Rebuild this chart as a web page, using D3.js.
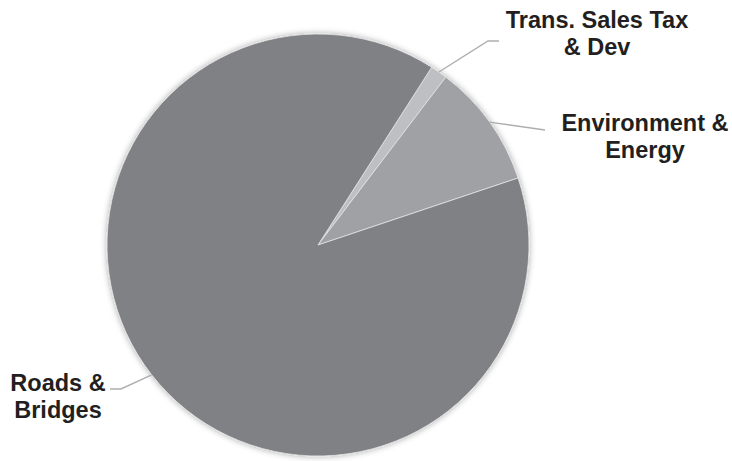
<!DOCTYPE html>
<html>
<head>
<meta charset="utf-8">
<script src="https://cdn.jsdelivr.net/npm/d3@7"></script>
<style>
  html, body { margin: 0; padding: 0; background: #fff; }
  svg { display: block; }
</style>
</head>
<body>
<div class="data_figure"></div>
<script>
// slice data, in drawing order (clockwise)
const categories = ["Trans. Sales Tax & Dev", "Environment & Energy", "Roads & Bridges"];
const shares = [1.3, 9.5, 89.2];
const labelLines = [["Trans. Sales Tax", "& Dev"], ["Environment &", "Energy"], ["Roads &", "Bridges"]];

const widthMax = 732;
const heightMax = 461;
const center = { x: 318, y: 245 };
const radius = 211;
const startDeg = 32.6;

const colors = ["#bebfc3", "#a0a1a5", "#808185"];

// label placement: text centre, first baseline, leader elbow / end
const labelLayout = [
    { x: 597, y: 28, elbow: [488, 41], end: [499, 41] },
    { x: 645, y: 131, elbow: [545, 130], end: [545, 130] },
    { x: 58, y: 391, elbow: [121, 389], end: [110, 389] },
];
const lineHeight = 27;

const svg = d3.select(".data_figure")
    .append("svg")
    .attr("width", widthMax)
    .attr("height", heightMax);

const defs = svg.append("defs");
const shadow = defs.append("filter")
    .attr("id", "pieShadow")
    .attr("x", "-10%").attr("y", "-10%")
    .attr("width", "120%").attr("height", "120%");
shadow.append("feDropShadow")
    .attr("dx", 0).attr("dy", 0)
    .attr("stdDeviation", 3)
    .attr("flood-color", "#000")
    .attr("flood-opacity", 0.35);

const pie = d3.pie()
    .sort(null)
    .value((d) => d)
    .startAngle(startDeg * Math.PI / 180)
    .endAngle(startDeg * Math.PI / 180 + 2 * Math.PI);

const arcs = pie(shares);
const arc = d3.arc().innerRadius(0).outerRadius(radius);

const pieG = svg.append("g")
    .attr("transform", "translate(" + center.x + "," + center.y + ")");

pieG.append("g")
    .attr("filter", "url(#pieShadow)")
    .selectAll("path")
    .data(arcs)
    .enter()
        .append("path")
        .attr("d", arc)
        .attr("fill", (d, i) => colors[i])
        .attr("stroke", "#e4e4e6")
        .attr("stroke-width", 0.8)
        .attr("stroke-linejoin", "round");

// leader lines start at the middle of each slice on the rim
const leaders = svg.append("g")
    .attr("fill", "none")
    .attr("stroke", "#aeaeb0")
    .attr("stroke-width", 1.4);

arcs.forEach((d, i) => {
    const mid = (d.startAngle + d.endAngle) / 2;
    const sx = center.x + radius * Math.sin(mid);
    const sy = center.y - radius * Math.cos(mid);
    const lay = labelLayout[i];
    leaders.append("polyline")
        .attr("points", [[sx, sy], lay.elbow, lay.end].map((p) => p.join(",")).join(" "));
});

const labels = svg.append("g")
    .attr("font-family", "'Liberation Sans', Arial, sans-serif")
    .attr("font-weight", "bold")
    .attr("font-size", "23.5px")
    .attr("fill", "#231f20")
    .attr("text-anchor", "middle");

labelLines.forEach((lines, i) => {
    const lay = labelLayout[i];
    const t = labels.append("text")
        .attr("x", lay.x)
        .attr("y", lay.y);
    lines.forEach((s, j) => {
        t.append("tspan")
            .attr("x", lay.x)
            .attr("dy", j === 0 ? 0 : lineHeight)
            .text(s);
    });
});
</script>
</body>
</html>
